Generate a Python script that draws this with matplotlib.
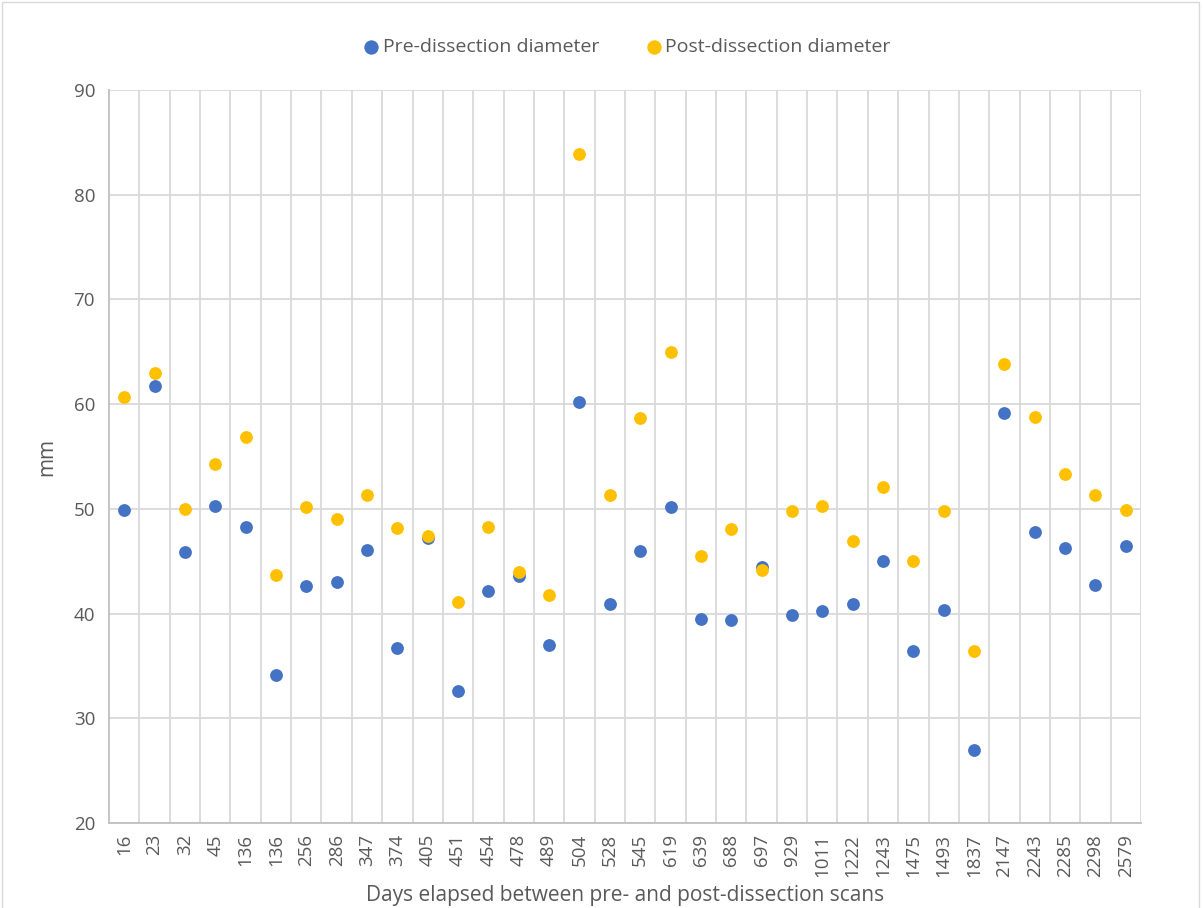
import matplotlib.pyplot as plt
from matplotlib.patches import Rectangle

days = ["16", "23", "32", "45", "136", "136", "256", "286", "347", "374",
        "405", "451", "454", "478", "489", "504", "528", "545", "619", "639",
        "688", "697", "929", "1011", "1222", "1243", "1475", "1493", "1837",
        "2147", "2243", "2285", "2298", "2579"]

pre = [49.9, 61.7, 45.9, 50.3, 48.3, 34.1, 42.6, 43.0, 46.1, 36.7,
       47.2, 32.6, 42.2, 43.6, 37.0, 60.2, 40.9, 46.0, 50.2, 39.5,
       39.4, 44.4, 39.9, 40.2, 40.9, 45.0, 36.4, 40.3, 27.0,
       59.2, 47.8, 46.3, 42.7, 46.5]

post = [60.7, 63.0, 50.0, 54.3, 56.9, 43.7, 50.2, 49.0, 51.3, 48.2,
        47.4, 41.1, 48.3, 44.0, 41.8, 83.9, 51.3, 58.7, 65.0, 45.5,
        48.1, 44.2, 49.8, 50.3, 46.9, 52.1, 45.0, 49.8, 36.4,
        63.8, 58.8, 53.3, 51.3, 49.9]

yticks = [20, 30, 40, 50, 60, 70, 80, 90]

plt.rcParams['font.family'] = ['Open Sans', 'DejaVu Sans']
text_color = "#595959"
grid_color = "#D9D9D9"

fig = plt.figure(figsize=(12.03, 9.08), dpi=100)
ax = fig.add_axes([109 / 1203, 1 - 823 / 908, (1141 - 109) / 1203, (823 - 90) / 908])

# outer chart border
fig.patches.append(Rectangle((2 / 1203, -0.01), 1197 / 1203, 1 - 2 / 908 + 0.01,
                             transform=fig.transFigure, fill=False,
                             edgecolor=grid_color, linewidth=1))

x = list(range(1, len(days) + 1))
ax.scatter(x, pre, s=85, color="#4472C4", label="Pre-dissection diameter", zorder=3, linewidths=0)
ax.scatter(x, post, s=85, color="#FFC000", label="Post-dissection diameter", zorder=3, linewidths=0)

ax.set_xlim(0.5, len(days) + 0.5)
ax.set_ylim(20, 90)
ax.set_yticks(yticks)
ax.set_xticks(x)
ax.set_xticklabels(days, rotation=90)
ax.set_xticks([i + 0.5 for i in range(1, len(days) + 1)], minor=True)

ax.grid(axis="y", which="major", color=grid_color, linewidth=1.3, zorder=0)
ax.grid(axis="x", which="minor", color=grid_color, linewidth=1.3, zorder=0)
ax.tick_params(axis="both", which="both", length=0, colors=text_color, labelsize=13.5)
ax.tick_params(axis="x", pad=8)
ax.tick_params(axis="y", pad=10)

for side in ["top", "right"]:
    ax.spines[side].set_visible(False)
for side in ["left", "bottom"]:
    ax.spines[side].set_color("#BFBFBF")
    ax.spines[side].set_linewidth(1.3)

ax.set_xlabel("Days elapsed between pre- and post-dissection scans", color=text_color,
              fontsize=15, labelpad=6)
ax.set_ylabel("mm", color=text_color, fontsize=15, labelpad=12)

ax.legend(loc="center", bbox_to_anchor=(0.5, 1.058), ncol=2, frameon=False,
          fontsize=14, labelcolor=text_color, handletextpad=0.0, handlelength=1.2,
          columnspacing=2.2, markerscale=1.12)

fig.savefig("out.png", dpi=100)
